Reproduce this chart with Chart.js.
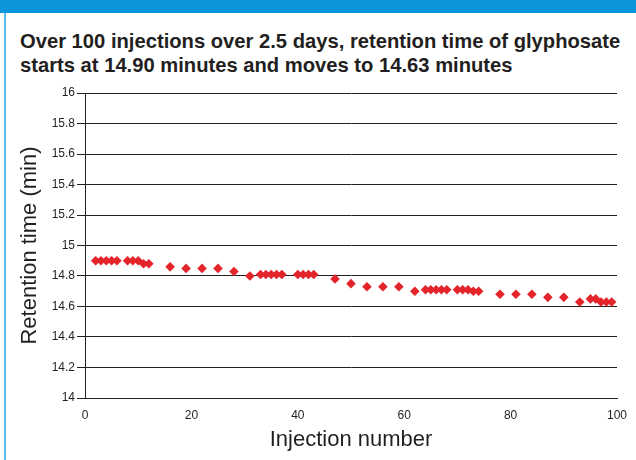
<!DOCTYPE html>
<html>
<head>
<meta charset="utf-8">
<script src="https://cdn.jsdelivr.net/npm/chart.js@4.4.1/dist/chart.umd.min.js"></script>
<style>
  body { margin: 0; background: #fff; }
  #frame { position: relative; width: 636px; height: 460px; overflow: hidden; font-family: "Liberation Sans", Arial, sans-serif; }
  #band { position: absolute; left: 0; top: 0; width: 636px; height: 13px; background: #0a96d8; }
  #side { position: absolute; left: 4px; top: 13px; width: 2px; height: 447px; background: #55bbea; }
  #title { position: absolute; left: 20px; top: 29px; font-size: 20.2px; font-weight: bold; line-height: 24px; color: #231f20; white-space: nowrap; }
  #retentionChart { position: absolute; left: 0; top: 0; }
</style>
</head>
<body>
<div id="frame">
  <div id="band"></div>
  <div id="side"></div>
  <div id="title">Over 100 injections over 2.5 days, retention time of glyphosate<br>starts at 14.90 minutes and moves to 14.63 minutes</div>
  <canvas id="retentionChart" width="636" height="460"></canvas>
</div>
<script>
// injection number and retention time (min)
const injections = [2, 3, 4, 5, 6, 8, 9, 10, 11, 12, 16, 19, 22, 25, 28, 31, 33, 34, 35, 36, 37,
    40, 41, 42, 43, 47, 50, 53, 56, 59, 62, 64, 65, 66, 67, 68, 70, 71, 72, 73, 74,
    78, 81, 84, 87, 90, 93, 95, 96, 97, 98, 99];
const retentionTimes = [14.90, 14.90, 14.90, 14.90, 14.90, 14.90, 14.90, 14.90, 14.88, 14.88,
    14.86, 14.85, 14.85, 14.85, 14.83, 14.80, 14.81, 14.81, 14.81, 14.81, 14.81,
    14.81, 14.81, 14.81, 14.81, 14.78, 14.75, 14.73, 14.73, 14.73, 14.70,
    14.71, 14.71, 14.71, 14.71, 14.71, 14.71, 14.71, 14.71, 14.70, 14.70,
    14.68, 14.68, 14.68, 14.66, 14.66, 14.63, 14.65, 14.65, 14.63, 14.63, 14.63];
const xTicks = [0, 20, 40, 60, 80, 100];
const yTicks = [14, 14.2, 14.4, 14.6, 14.8, 15, 15.2, 15.4, 15.6, 15.8, 16];

const ink = '#231f20';

function drawChart() {
    const points = injections.map((x, i) => ({ x: x, y: retentionTimes[i] }));
    const ctx = document.getElementById('retentionChart').getContext('2d');

    new Chart(ctx, {
        type: 'scatter',
        data: {
            datasets: [{
                data: points,
                pointStyle: 'rectRot',
                pointRadius: 4.8,
                backgroundColor: '#e4242b',
                borderWidth: 0
            }]
        },
        options: {
            responsive: false,
            animation: false,
            layout: { padding: { top: 93, right: 19, bottom: 0, left: 0 } },
            plugins: {
                legend: { display: false },
                tooltip: { enabled: false }
            },
            scales: {
                x: {
                    type: 'linear',
                    min: xTicks[0],
                    max: xTicks[xTicks.length - 1],
                    afterBuildTicks: s => { s.ticks = xTicks.map(v => ({ value: v })); },
                    afterFit: s => { s.height = 62; },
                    grid: { display: false },
                    border: { display: true, color: ink, width: 1 },
                    ticks: { color: ink, padding: 2, font: { family: 'Liberation Sans', size: 12 } },
                    title: {
                        display: true,
                        text: 'Injection number',
                        color: ink,
                        padding: { top: 0, bottom: 7 },
                        font: { family: 'Liberation Sans', size: 22 }
                    }
                },
                y: {
                    min: yTicks[0],
                    max: yTicks[yTicks.length - 1],
                    afterBuildTicks: s => { s.ticks = yTicks.map(v => ({ value: v })); },
                    afterFit: s => { s.width = 85; },
                    grid: { color: ink, lineWidth: 1, tickLength: 8 },
                    border: { display: true, color: ink, width: 1 },
                    ticks: {
                        color: ink,
                        padding: 2,
                        font: { family: 'Liberation Sans', size: 12 },
                        callback: v => String(+v.toFixed(1))
                    },
                    title: {
                        display: true,
                        text: 'Retention time (min)',
                        color: ink,
                        padding: { top: 17, bottom: 0 },
                        font: { family: 'Liberation Sans', size: 22 }
                    }
                }
            }
        }
    });
}

window.onload = drawChart;
</script>
</body>
</html>
